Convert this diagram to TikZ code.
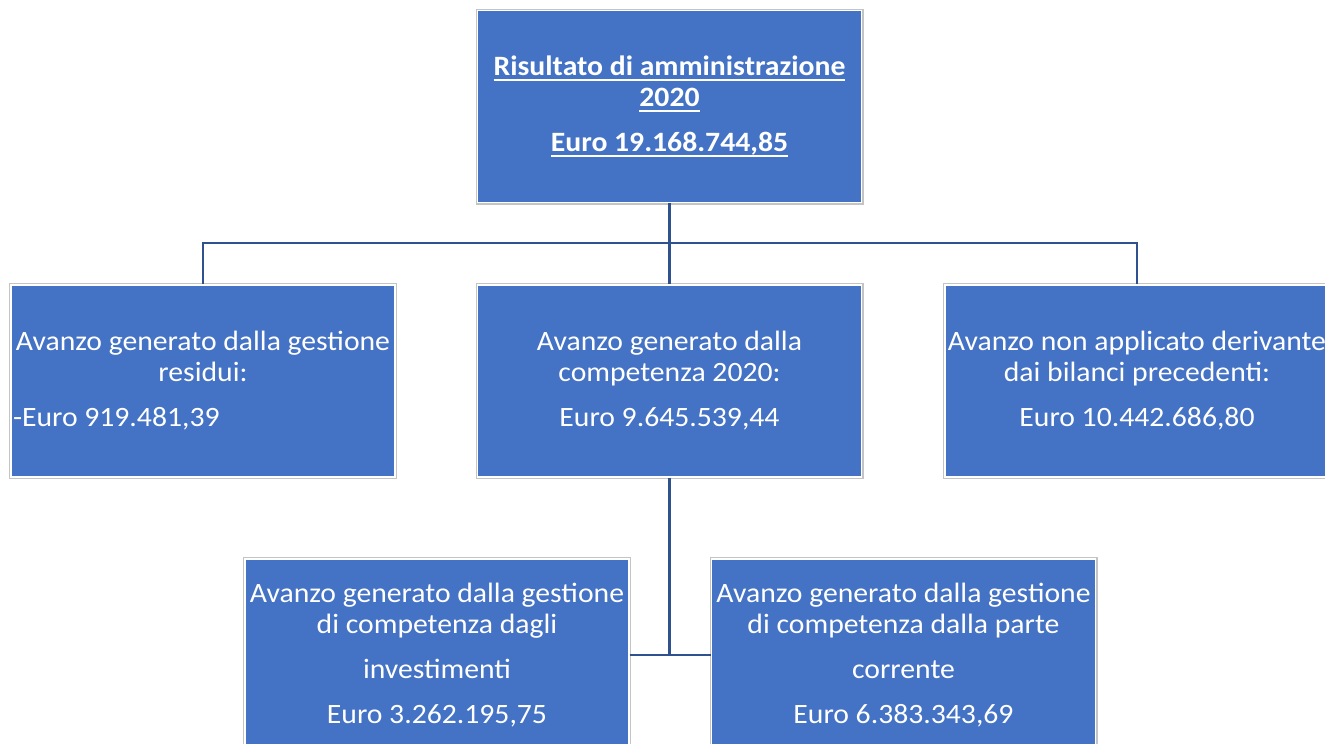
\documentclass[tikz,border=0pt]{standalone}
\usepackage{fontspec}
\setmainfont{Carlito}[FakeStretch=1.06]
\definecolor{boxblue}{HTML}{4472C4}
\definecolor{edgegray}{HTML}{C4C4C4}
\definecolor{linkblue}{HTML}{2F528F}
\newcommand{\myul}[1]{\setbox0\hbox{#1}\rlap{\rule[-6pt]{\wd0}{2pt}}\box0}
\newcommand{\tline}[1]{\makebox[0pt]{#1}}
\begin{document}
\begin{tikzpicture}[x=1pt,y=-1pt,
  blockbox/.style={rectangle, fill=boxblue, draw=white, line width=1.5pt,
    preaction={draw=edgegray, line width=4pt},
    minimum width=384pt, minimum height=192pt, inner xsep=2pt, inner ysep=0pt,
    align=center, text=white, font=\fontsize{28}{31}\selectfont},
  link/.style={draw=linkblue, line width=2.6pt}]
\useasboundingbox (0,0) rectangle (1325,744);
\clip (0,0) rectangle (1325,744);
\fill[white] (0,0) rectangle (1325,744);

\node[blockbox, font=\fontsize{28}{31}\selectfont\bfseries] (top) at (669.5,106.5)
  {\tline{\myul{Risultato di amministrazione}}\\
   \tline{\myul{2020}}\\[14pt]
   \tline{\myul{Euro 19.168.744,85}}};

\node[blockbox] (left) at (203,381)
  {\tline{Avanzo generato dalla gestione}\\
   \tline{residui:}\\[14pt]
   \makebox[380pt][l]{-Euro 919.481,39}};

\node[blockbox] (mid) at (669.5,381)
  {\tline{Avanzo generato dalla}\\
   \tline{competenza 2020:}\\[14pt]
   \tline{Euro 9.645.539,44}};

\node[blockbox] (right) at (1137,381)
  {\tline{Avanzo non applicato derivante}\\
   \tline{dai bilanci precedenti:}\\[14pt]
   \tline{Euro 10.442.686,80}};

\node[blockbox] (bl) at (437,655)
  {\tline{Avanzo generato dalla gestione}\\
   \tline{di competenza dagli}\\[14pt]
   \tline{investimenti}\\[14pt]
   \tline{Euro 3.262.195,75}};

\node[blockbox] (br) at (903.5,655)
  {\tline{Avanzo generato dalla gestione}\\
   \tline{di competenza dalla parte}\\[14pt]
   \tline{corrente}\\[14pt]
   \tline{Euro 6.383.343,69}};

\coordinate (j1) at (669.5,243);
\draw[link] (top.south) -- (j1);
\draw[link] (j1) -| (left.north);
\draw[link] (j1) -| (right.north);
\draw[link] (j1) -- (mid.north);
\draw[link] (mid.south) -- (mid.south |- bl.east);
\draw[link] (bl.east) -- (br.west);
\end{tikzpicture}
\end{document}
